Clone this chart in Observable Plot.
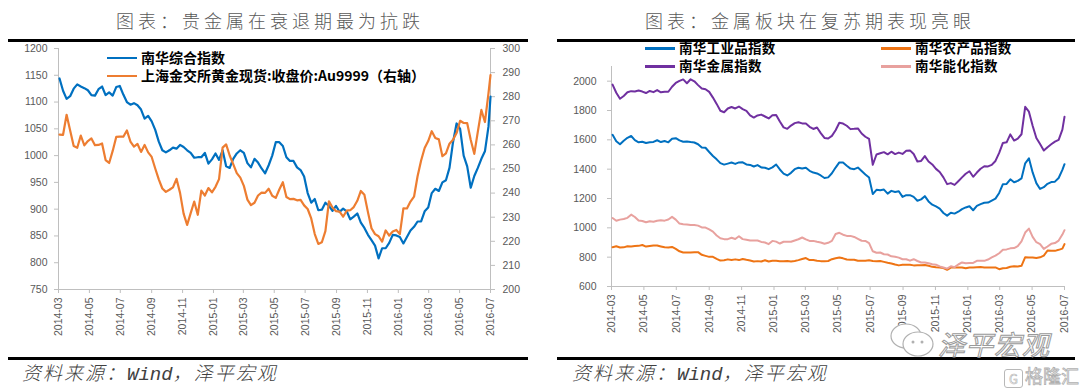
<!DOCTYPE html>
<html><head><meta charset="utf-8">
<script src="https://cdn.jsdelivr.net/npm/d3@7"></script>
<script src="https://cdn.jsdelivr.net/npm/@observablehq/plot@0.6"></script>
<style>
body{margin:0;background:#fff;}
#wrap{position:relative;width:1080px;height:389px;overflow:hidden;background:#fff;font-family:"Noto Sans CJK SC",sans-serif;}
.title{position:absolute;top:8px;font-size:18px;color:#595959;letter-spacing:4px;white-space:nowrap;transform:translateX(-50%);font-weight:300;line-height:24px}
.rule{position:absolute;height:3px;background:#000;}
.src{position:absolute;top:359px;font-size:19px;color:#404040;font-style:italic;white-space:nowrap;letter-spacing:2px;font-weight:300;line-height:26px}
.src .en{font-family:"Liberation Mono",monospace;letter-spacing:0}
.leg{position:absolute;font-size:14px;font-weight:bold;color:#000;white-space:nowrap;line-height:14px;height:14px}
.leg.sm{font-size:13.5px;letter-spacing:0.3px}
.leg i{display:inline-block;width:30px;height:2.5px;vertical-align:middle;margin-right:4px;position:relative;top:-1px}
.plot{position:absolute;top:36px}
.wm{position:absolute;color:#fff;-webkit-text-stroke:1px #9a9a9a;font-style:italic;white-space:nowrap}
</style></head>
<body>
<div id="wrap">
  <div class="title" style="left:270px">图表：贵金属在衰退期最为抗跌</div>
  <div class="title" style="left:810px">图表：金属板块在复苏期表现亮眼</div>
  <div class="rule" style="left:8px;width:520px;top:39px"></div>
  <div class="rule" style="left:557px;width:518px;top:39px"></div>
  <div class="rule" style="left:8px;width:520px;top:357px"></div>
  <div class="rule" style="left:557px;width:518px;top:357px"></div>
  <div id="left" class="plot" style="left:0"></div>
  <div id="right" class="plot" style="left:540px"></div>
  <div id="legends"></div>
  <div class="src" style="left:22px">资料来源：<span class="en">Wind</span>，泽平宏观</div>
  <div class="src" style="left:572px">资料来源：<span class="en">Wind</span>，泽平宏观</div>
  <svg style="position:absolute;left:888px;top:320px" width="50" height="40">
    <ellipse cx="18" cy="16" rx="15" ry="12" fill="#fff" stroke="#b0b0b0" stroke-width="1.2"/>
    <ellipse cx="30" cy="24" rx="15" ry="12" fill="#fff" stroke="#b0b0b0" stroke-width="1.2"/>
    <circle cx="25" cy="22" r="1.5" fill="#b0b0b0"/><circle cx="34" cy="22" r="1.5" fill="#b0b0b0"/>
  </svg>
  <div class="wm" style="left:938px;top:324px;font-size:27px;letter-spacing:1px">泽平宏观</div>
  <div class="wm" style="left:1004px;top:362px;font-size:18px;font-style:normal;-webkit-text-stroke:0.8px #b0b0b0">
    <span style="display:inline-block;width:17px;height:17px;border:1.5px solid #b8b8b8;border-radius:3px;vertical-align:middle;text-align:center;line-height:17px;font-size:13px;-webkit-text-stroke:0.6px #b0b0b0;margin-right:2px">G</span>格隆汇</div>
</div>
<script>
// ---------- data ----------
const weekDates = [
"2014-03-03","2014-03-10","2014-03-17","2014-03-24","2014-03-31",
"2014-04-07","2014-04-14","2014-04-21","2014-04-28",
"2014-05-05","2014-05-12","2014-05-19","2014-05-26",
"2014-06-02","2014-06-09","2014-06-16","2014-06-23","2014-06-30",
"2014-07-07","2014-07-14","2014-07-21","2014-07-28",
"2014-08-04","2014-08-11","2014-08-18","2014-08-25",
"2014-09-01","2014-09-08","2014-09-15","2014-09-22","2014-09-29",
"2014-10-06","2014-10-13","2014-10-20","2014-10-27",
"2014-11-03","2014-11-10","2014-11-17","2014-11-24",
"2014-12-01","2014-12-08","2014-12-15","2014-12-22","2014-12-29",
"2015-01-05","2015-01-12","2015-01-19","2015-01-26",
"2015-02-02","2015-02-09","2015-02-16","2015-02-23",
"2015-03-02","2015-03-09","2015-03-16","2015-03-23","2015-03-30",
"2015-04-06","2015-04-13","2015-04-20","2015-04-27",
"2015-05-04","2015-05-11","2015-05-18","2015-05-25",
"2015-06-01","2015-06-08","2015-06-15","2015-06-22","2015-06-29",
"2015-07-06","2015-07-13","2015-07-20","2015-07-27",
"2015-08-03","2015-08-10","2015-08-17","2015-08-24","2015-08-31",
"2015-09-07","2015-09-14","2015-09-21","2015-09-28",
"2015-10-05","2015-10-12","2015-10-19","2015-10-26",
"2015-11-02","2015-11-09","2015-11-16","2015-11-23","2015-11-30",
"2015-12-07","2015-12-14","2015-12-21","2015-12-28",
"2016-01-04","2016-01-11","2016-01-18","2016-01-25",
"2016-02-01","2016-02-08","2016-02-15","2016-02-22","2016-02-29",
"2016-03-07","2016-03-14","2016-03-21","2016-03-28",
"2016-04-04","2016-04-11","2016-04-18","2016-04-25",
"2016-05-02","2016-05-09","2016-05-16","2016-05-23","2016-05-30",
"2016-06-06","2016-06-13","2016-06-20","2016-06-27",
"2016-07-01"];

// 南华综合指数 (left axis)
const nhComposite = [
1144,1121,1106,1111,1125,1133,1129,1126,1122,1113,
1112,1124,1129,1113,1118,1112,1128,1130,1114,1100,
1095,1098,1094,1086,1069,1074,1064,1048,1026,1010,
1006,1010,1015,1013,1020,1016,1010,1005,996,997,
997,1005,985,993,1004,992,1010,980,977,994,
1004,1010,1005,986,978,994,987,976,967,982,
1000,1025,1025,1018,997,990,990,978,973,961,
930,912,919,898,899,912,906,897,906,895,
901,896,881,886,892,875,865,852,842,832,
808,827,827,837,852,851,848,836,848,860,
867,877,877,896,903,930,938,934,950,954,
977,1025,1060,1050,1000,980,940,962,977,994,
1008,1054,1110];

// 上海金交所黄金现货:收盘价:Au9999 (right axis)
const goldAu9999 = [
264.3,264.2,272.5,266,259.5,258.8,263.9,259.8,261.6,262.7,
259.9,260,260.6,253.7,252.5,257.5,263.3,263.4,263.4,266,
261.4,259.3,260.4,257.1,260,256.9,255,250.2,245.7,241.9,
240.5,241.4,242.4,245.9,240.1,231.5,226.8,231.7,236.5,231,
241,239,242.1,240.3,242.6,245.8,258.9,260.2,255.6,252,
248.3,246.4,243,237.3,235,236,239,240.2,240.1,241.8,
238.9,238,241.5,244.5,238.4,237.5,237.6,237,237.2,234.9,
233.4,229.5,223,218.9,219.6,224.2,236.6,234,232.5,232.3,
230.2,232.7,232.9,234.2,236.8,240.9,239.3,232.1,225.4,223,
222.1,219.9,224.5,222.4,224.1,224.7,223,233.7,233.6,236.5,
238.5,247,253.5,258.7,261.6,265.7,262.9,262.3,255.3,256.5,
260.5,262.1,264.9,270,269.1,269,262,256.3,265.5,274.5,
269.5,281.4,289];

// 南华工业品指数
const nhIndustrial = [
1634,1590,1570,1594,1614,1626,1598,1583,1587,1578,
1584,1586,1597,1585,1592,1583,1607,1611,1596,1587,
1589,1585,1582,1570,1548,1546,1517,1490,1467,1441,
1431,1438,1445,1436,1446,1447,1432,1429,1418,1428,
1412,1410,1400,1412,1432,1398,1370,1357,1375,1400,
1410,1404,1410,1389,1377,1371,1357,1340,1344,1372,
1411,1446,1445,1423,1404,1400,1411,1387,1364,1343,
1230,1259,1256,1261,1233,1252,1244,1249,1211,1223,
1223,1211,1185,1194,1216,1180,1158,1146,1131,1101,
1083,1103,1097,1110,1128,1139,1147,1120,1150,1162,
1171,1172,1186,1199,1238,1298,1299,1331,1311,1320,
1337,1440,1474,1378,1305,1265,1277,1300,1312,1315,
1340,1395,1434];

// 南华农产品指数
const nhAgri = [
868,874,866,867,874,873,876,877,883,872,
876,880,879,873,867,866,870,857,840,832,
832,832,833,834,816,809,802,802,789,777,
779,785,780,785,780,788,782,777,771,773,
770,779,770,775,775,772,772,774,771,774,
780,787,794,780,780,776,773,772,774,786,
793,798,792,784,783,782,775,775,775,779,
774,772,774,768,762,757,750,744,748,748,
748,744,745,745,747,741,734,731,730,726,
714,729,730,730,730,725,730,730,732,733,
730,730,730,730,718,725,726,735,738,736,
741,800,798,798,794,799,811,845,844,843,
850,858,889];

// 南华金属指数
const nhMetal = [
1977,1921,1880,1899,1924,1932,1930,1936,1929,1919,
1933,1925,1939,1924,1928,1928,1962,1988,2002,2012,
1986,2013,1999,1973,1950,1945,1927,1888,1845,1798,
1788,1814,1824,1814,1827,1809,1798,1767,1752,1766,
1772,1759,1746,1768,1770,1725,1685,1675,1697,1714,
1720,1712,1711,1689,1674,1684,1646,1613,1609,1627,
1665,1716,1711,1696,1673,1675,1678,1643,1621,1606,
1430,1500,1508,1516,1501,1519,1503,1513,1504,1526,
1528,1503,1452,1456,1489,1452,1432,1402,1381,1344,
1298,1305,1293,1318,1344,1369,1386,1348,1377,1403,
1420,1419,1429,1456,1511,1579,1583,1637,1595,1608,
1638,1825,1792,1696,1613,1571,1527,1550,1570,1588,
1600,1670,1757];

// 南华能化指数
const nhEnergyChem = [
1067,1048,1056,1060,1068,1090,1074,1050,1047,1038,
1045,1041,1048,1051,1049,1057,1075,1056,1029,1025,
1023,1020,1020,1015,1003,1002,989,974,948,929,
923,923,932,924,943,923,919,913,913,914,
904,900,889,911,906,893,905,905,905,914,
922,934,921,911,911,905,900,892,898,911,
958,966,953,945,945,938,925,912,911,896,
840,830,832,820,818,806,803,797,786,786,
776,786,774,764,764,759,752,749,737,730,
722,738,732,750,764,758,761,761,775,775,
775,784,798,810,827,851,853,860,862,875,
907,968,995,938,902,889,856,873,891,896,
913,954,984];

const leftTicksL = [750,800,850,900,950,1000,1050,1100,1150,1200];
const leftTicksR = [200,210,220,230,240,250,260,270,280,290,300];
const rightTicksY = [600,800,1000,1200,1400,1600,1800,2000];
const monthTicks = ["2014-03","2014-05","2014-07","2014-09","2014-11","2015-01","2015-03",
  "2015-05","2015-07","2015-09","2015-11","2016-01","2016-03","2016-05","2016-07"];

const leftSeries = [
  {name:"南华综合指数", values:nhComposite, color:"#0070C0", axis:"left"},
  {name:"上海金交所黄金现货:收盘价:Au9999（右轴）", values:goldAu9999, color:"#ED7D31", axis:"right"}
];
const rightSeries = [
  {name:"南华工业品指数", values:nhIndustrial, color:"#0070C0"},
  {name:"南华农产品指数", values:nhAgri, color:"#EE7414"},
  {name:"南华金属指数", values:nhMetal, color:"#7030A0"},
  {name:"南华能化指数", values:nhEnergyChem, color:"#E8A19E"}
];

// ---------- rendering ----------
const parse = d3.utcParse("%Y-%m-%d");
const dates = weekDates.map(parse);
const xTicks = monthTicks.map(d3.utcParse("%Y-%m"));
const fmt = d3.utcFormat("%Y-%m");
const intFmt = d3.format("d");
const axisColor = "#bfbfbf", tickText = "#595959";
const L0 = 750, L1 = 1200, R0 = 200, R1 = 300;
const toLeft = r => L0 + (r - R0) * (L1 - L0) / (R1 - R0);
const fromLeft = v => R0 + (v - L0) * (R1 - R0) / (L1 - L0);
const rows = s => dates.map((d, i) => ({date: d, value: s.values[i], name: s.name}));
const baseStyle = {fontFamily:"'Liberation Sans', Arial, sans-serif", fontSize:"10.5px", color:tickText, background:"transparent", overflow:"visible"};

const leftPlot = Plot.plot({
  width: 540, height: 320, marginLeft: 58, marginRight: 50, marginTop: 12, marginBottom: 67,
  style: baseStyle,
  x: {type: "utc", domain: [xTicks[0], xTicks[xTicks.length - 1]]},
  y: {domain: [L0, L1]},
  marks: [
    Plot.ruleX([xTicks[0]], {stroke: axisColor, y1: L0, y2: L1}),
    Plot.ruleX([xTicks[xTicks.length - 1]], {stroke: axisColor, y1: L0, y2: L1}),
    Plot.ruleY([L0], {stroke: axisColor}),
    Plot.axisY(leftTicksL, {anchor: "left", tickSize: 4, tickPadding: 7, stroke: axisColor, fill: tickText, label: null, tickFormat: intFmt}),
    Plot.axisY(leftTicksR.map(toLeft), {anchor: "right", tickSize: 4, tickPadding: 8, stroke: axisColor, fill: tickText, label: null, tickFormat: v => intFmt(Math.round(fromLeft(v)))}),
    Plot.axisX(xTicks, {anchor: "bottom", tickSize: 4, tickPadding: 4, tickRotate: -90, stroke: axisColor, fill: tickText, tickFormat: fmt, label: null}),
    ...leftSeries.map(s => Plot.line(rows(s), {
      x: "date",
      y: s.axis === "right" ? (d => toLeft(d.value)) : "value",
      stroke: s.color, strokeWidth: 2.2, strokeLinejoin: "round"
    }))
  ]
});
document.getElementById("left").append(leftPlot);

const rightPlot = Plot.plot({
  width: 540, height: 320, marginLeft: 71, marginRight: 16, marginTop: 30, marginBottom: 70,
  style: baseStyle,
  x: {type: "utc", domain: [xTicks[0], xTicks[xTicks.length - 1]]},
  y: {domain: [600, 2100]},
  marks: [
    Plot.ruleX([xTicks[0]], {stroke: axisColor, y1: 600, y2: 2100}),
    Plot.ruleY([600], {stroke: axisColor}),
    Plot.axisY(rightTicksY, {anchor: "left", tickSize: 4, tickPadding: 11, stroke: axisColor, fill: tickText, label: null, tickFormat: intFmt}),
    Plot.axisX(xTicks, {anchor: "bottom", tickSize: 4, tickPadding: 4, tickRotate: -90, stroke: axisColor, fill: tickText, tickFormat: fmt, label: null}),
    ...rightSeries.map(s => Plot.line(rows(s), {
      x: "date", y: "value", stroke: s.color, strokeWidth: 2, strokeLinejoin: "round"
    }))
  ]
});
document.getElementById("right").append(rightPlot);

// legends (HTML, built from the series arrays)
const legendPos = {
  "南华综合指数": [107, 50, ""],
  "上海金交所黄金现货:收盘价:Au9999（右轴）": [107, 68, ""],
  "南华工业品指数": [645, 40, "sm"],
  "南华金属指数": [645, 58, "sm"],
  "南华农产品指数": [881, 40, "sm"],
  "南华能化指数": [881, 58, "sm"]
};
const legendBox = document.getElementById("legends");
[...leftSeries, ...rightSeries].forEach(s => {
  const [lx, ly, cls] = legendPos[s.name];
  const el = document.createElement("div");
  el.className = "leg " + cls;
  el.style.left = lx + "px";
  el.style.top = ly + "px";
  el.innerHTML = `<i style="background:${s.color}"></i>${s.name}`;
  legendBox.append(el);
});
</script>
</body></html>
